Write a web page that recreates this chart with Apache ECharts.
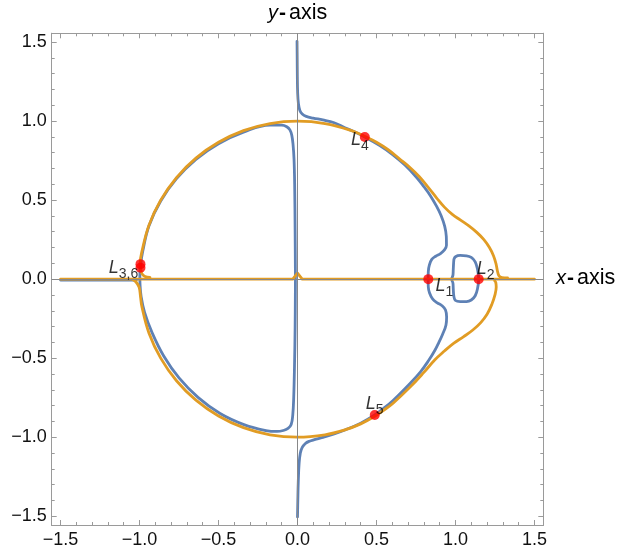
<!DOCTYPE html>
<html>
<head>
<meta charset="utf-8">
<script src="https://cdn.jsdelivr.net/npm/echarts@6/dist/echarts.min.js"></script>
<style>
  html, body { margin: 0; padding: 0; background: #ffffff; }
  #chart { width: 617px; height: 553px; }
</style>
</head>
<body>
<div id="chart"></div>
<script>
// Tick positions
const majorTicks = [-1.5, -1.0, -0.5, 0.0, 0.5, 1.0, 1.5];
const minorTicks = [-1.5, -1.4, -1.3, -1.2, -1.1, -1.0, -0.9, -0.8, -0.7, -0.6, -0.5, -0.4, -0.3, -0.2, -0.1,
  0.0, 0.1, 0.2, 0.3, 0.4, 0.5, 0.6, 0.7, 0.8, 0.9, 1.0, 1.1, 1.2, 1.3, 1.4, 1.5];

// Blue curve: branch from the top through L4, L1 and L5 down to the bottom
const blueOuterX = [-0.003, -0.002, -0.001, 0.001, 0.006, 0.015, 0.030, 0.055, 0.099, 0.160, 0.232, 0.300, 0.360, 0.426,
  0.521, 0.600, 0.680, 0.753, 0.800, 0.840, 0.880, 0.910, 0.932, 0.942, 0.943, 0.930, 0.905, 0.875, 0.850, 0.835, 0.828, 0.827,
  0.828, 0.836, 0.855, 0.885, 0.915, 0.937, 0.944, 0.940, 0.918, 0.895, 0.870, 0.830, 0.780, 0.711, 0.605, 0.540, 0.489,
  0.400, 0.300, 0.232, 0.160, 0.107, 0.075, 0.050, 0.030, 0.018, 0.010, 0.005, 0.002, 0.000];
const blueOuterY = [1.505, 1.400, 1.280, 1.180, 1.110, 1.068, 1.045, 1.030, 1.019, 1.008, 0.990, 0.958, 0.933, 0.900,
  0.845, 0.790, 0.722, 0.645, 0.585, 0.530, 0.462, 0.400, 0.334, 0.270, 0.215, 0.185, 0.162, 0.145, 0.125, 0.090, 0.048, 0.000,
  -0.050, -0.088, -0.125, -0.150, -0.168, -0.195, -0.240, -0.290, -0.350, -0.400, -0.450, -0.515, -0.585, -0.662, -0.768, -0.822, -0.860,
  -0.912, -0.955, -0.980, -1.002, -1.016, -1.026, -1.040, -1.065, -1.100, -1.170, -1.280, -1.400, -1.505];

// Blue closed curve on the left (through L3 / L6)
const blueLeftX = [-0.013, -0.015, -0.018, -0.022, -0.028, -0.036, -0.048, -0.068, -0.100, -0.174, -0.342,
  -0.500, -0.643, -0.766, -0.866, -0.940, -0.980, -0.994, -0.998, -0.997, -0.990, -0.968, -0.920, -0.846,
  -0.750, -0.630, -0.490, -0.335, -0.200, -0.130, -0.090, -0.060, -0.040, -0.030, -0.024, -0.019, -0.015, -0.013];
const blueLeftY = [0.000, 0.300, 0.600, 0.760, 0.850, 0.910, 0.945, 0.965, 0.975, 0.975, 0.930,
  0.857, 0.758, 0.636, 0.495, 0.338, 0.175, 0.085, 0.020, -0.030, -0.110, -0.210, -0.340, -0.488,
  -0.625, -0.748, -0.850, -0.922, -0.958, -0.964, -0.958, -0.945, -0.920, -0.860, -0.750, -0.550, -0.300, 0.000];

// Blue small loop around L2
const blueInnerX = [0.990, 1.000, 1.030, 1.070, 1.100, 1.125, 1.140, 1.147, 1.140, 1.125, 1.100, 1.070, 1.030,
  1.000, 0.990, 0.986, 0.984, 0.976, 0.984, 0.986, 0.988, 0.990];
const blueInnerY = [0.125, 0.142, 0.150, 0.148, 0.138, 0.110, 0.060, 0.000, -0.058, -0.105, -0.132, -0.142, -0.142,
  -0.135, -0.110, -0.060, -0.025, 0.000, 0.025, 0.060, 0.100, 0.125];

// Blue segment along the negative x-axis
const blueAxisX = [-1.500, -1.020];
const blueAxisY = [-0.006, -0.006];

// Orange curve: the x-axis line with its small bump at the origin
const orangeLineX = [-1.500, -0.030, 0.000, 0.030, 1.500];
const orangeLineY = [0.000, 0.000, 0.038, 0.000, 0.000];

// Orange upper arc (L3 hook, L4, right lobe)
const orangeUpperX = [-0.934, -0.965, -0.985, -0.994, -0.996, -0.985, -0.940, -0.866, -0.766, -0.643, -0.500,
  -0.342, -0.174, 0.000, 0.174, 0.342, 0.426, 0.500, 0.574, 0.647, 0.710, 0.770, 0.830, 0.880, 0.930, 0.980,
  1.030, 1.085, 1.135, 1.180, 1.215, 1.240, 1.256, 1.265, 1.275, 1.295, 1.330];
const orangeUpperY = [0.011, 0.017, 0.035, 0.070, 0.100, 0.174, 0.342, 0.500, 0.643, 0.766, 0.866,
  0.940, 0.985, 1.000, 0.985, 0.940, 0.903, 0.866, 0.819, 0.760, 0.708, 0.650, 0.578, 0.515, 0.456, 0.410,
  0.375, 0.337, 0.296, 0.250, 0.200, 0.150, 0.100, 0.055, 0.022, 0.010, 0.008];

// Orange lower arc (L5, right lobe)
const orangeLowerX = [-1.041, -1.022, -1.003, -0.995, -0.985, -0.940, -0.866, -0.766, -0.643, -0.500, -0.342,
  -0.174, 0.000, 0.174, 0.300, 0.400, 0.489, 0.545, 0.605, 0.711, 0.800, 0.870, 0.930, 0.990, 1.050, 1.110,
  1.160, 1.200, 1.230, 1.250, 1.258, 1.255, 1.248];
const orangeLowerY = [-0.004, -0.018, -0.050, -0.100, -0.174, -0.342, -0.500, -0.643, -0.766, -0.866, -0.940,
  -0.985, -1.000, -0.985, -0.954, -0.916, -0.868, -0.830, -0.785, -0.685, -0.590, -0.510, -0.455, -0.405, -0.365, -0.322,
  -0.275, -0.222, -0.160, -0.100, -0.050, -0.020, -0.010];

// Libration points
const pointNames = ['L1', 'L2', 'L3', 'L6', 'L4', 'L5'];
const pointX = [0.828, 1.147, -0.994, -0.994, 0.426, 0.489];
const pointY = [0.000, 0.000, 0.095, 0.072, 0.900, -0.860];
const pointTexts = ['{l|L}{s|1}', '{l|L}{s|2}', '{l|L}{s|3,6}', '', '{l|L}{s|4}', '{l|L}{s|5}'];

const BLUE = '#5E81B5';
const ORANGE = '#E19C24';
const FRAME = '#9a9a9a';
const RANGE = 1.556;
const FONT = 'Liberation Sans, Arial, sans-serif';

const labelOffsets = {
  L1: [16, 9], L2: [7, -8], L3: [-17, 6], L6: [0, 0], L4: [-5, 5], L5: [0, -9]
};

function zip(xs, ys) { return xs.map((x, i) => [x, ys[i]]); }
function fmt(v) { return v.toFixed(1).replace('-', '\u2212'); }

function curve(xs, ys, color, smooth) {
  return {
    type: 'line', data: zip(xs, ys), showSymbol: false, smooth: smooth,
    silent: true, animation: false,
    lineStyle: { color: color, width: 2.8, cap: 'round', join: 'round' }
  };
}

function axis(kind, pos, ticks, len, labels) {
  return {
    type: 'value', min: -RANGE, max: RANGE, position: pos,
    axisLine: { show: true, onZero: false, lineStyle: { color: FRAME, width: 1 } },
    axisTick: { show: true, inside: true, length: len, customValues: ticks, lineStyle: { color: FRAME, width: 1 } },
    axisLabel: labels ? {
      show: true, customValues: majorTicks, formatter: fmt, color: '#111',
      fontSize: 18, fontFamily: FONT, margin: kind === 'x' ? 6 : 5
    } : { show: false },
    splitLine: { show: false }
  };
}

const labelRich = {
  l: { fontSize: 18, fontStyle: 'italic', fontFamily: FONT, color: '#000', padding: [0, 0, 4, 0] },
  s: { fontSize: 14, fontFamily: FONT, color: '#000', verticalAlign: 'bottom' }
};

const pointData = pointNames.map((n, i) => ({
  name: n,
  value: [pointX[i], pointY[i]],
  label: {
    show: pointTexts[i] !== '',
    formatter: pointTexts[i],
    position: 'inside',
    offset: labelOffsets[n],
    rich: labelRich
  }
}));

const axisSeries = curve(blueAxisX, blueAxisY, BLUE, false);
axisSeries.markLine = {
  silent: true, symbol: 'none', animation: false,
  label: { show: false },
  lineStyle: { color: '#888888', width: 1, type: 'solid' },
  data: [{ xAxis: 0 }, { yAxis: 0 }]
};

function axisTitle(letter, x, y) {
  return {
    type: 'text', x: x, y: y,
    style: {
      text: '{i|' + letter + '}{d|-}{n|axis}', verticalAlign: 'middle',
      rich: {
        i: { fontSize: 20, fontStyle: 'italic', fontFamily: FONT, fill: '#000' },
        d: { fontSize: 21, fontWeight: 'bold', fontFamily: FONT, fill: '#000', padding: [0, 3, 0, 1] },
        n: { fontSize: 21.5, fontFamily: FONT, fill: '#000' }
      }
    }
  };
}

const option = {
  animation: false,
  backgroundColor: '#ffffff',
  grid: { left: 51.7, right: 73.7, top: 33.3, bottom: 28, containLabel: false, outerBoundsMode: 'none' },
  xAxis: [
    axis('x', 'bottom', majorTicks, 5, true),
    axis('x', 'bottom', minorTicks, 3, false),
    axis('x', 'top', majorTicks, 5, false),
    axis('x', 'top', minorTicks, 3, false)
  ],
  yAxis: [
    axis('y', 'left', majorTicks, 5, true),
    axis('y', 'left', minorTicks, 3, false),
    axis('y', 'right', majorTicks, 5, false),
    axis('y', 'right', minorTicks, 3, false)
  ],
  series: [
    axisSeries,
    curve(blueOuterX, blueOuterY, BLUE, 0.4),
    curve(blueLeftX, blueLeftY, BLUE, 0.4),
    curve(blueInnerX, blueInnerY, BLUE, 0.4),
    curve(orangeLineX, orangeLineY, ORANGE, false),
    curve(orangeUpperX, orangeUpperY, ORANGE, 0.4),
    curve(orangeLowerX, orangeLowerY, ORANGE, 0.4),
    {
      type: 'scatter', data: pointData, symbol: 'circle', symbolSize: 10,
      itemStyle: { color: '#ff0000' }, silent: true, animation: false, z: 5
    }
  ],
  graphic: [
    axisTitle('y', 268, 13),
    axisTitle('x', 556, 278)
  ]
};

const chart = echarts.init(document.getElementById('chart'), null, { renderer: 'canvas' });
chart.setOption(option);
</script>
</body>
</html>
